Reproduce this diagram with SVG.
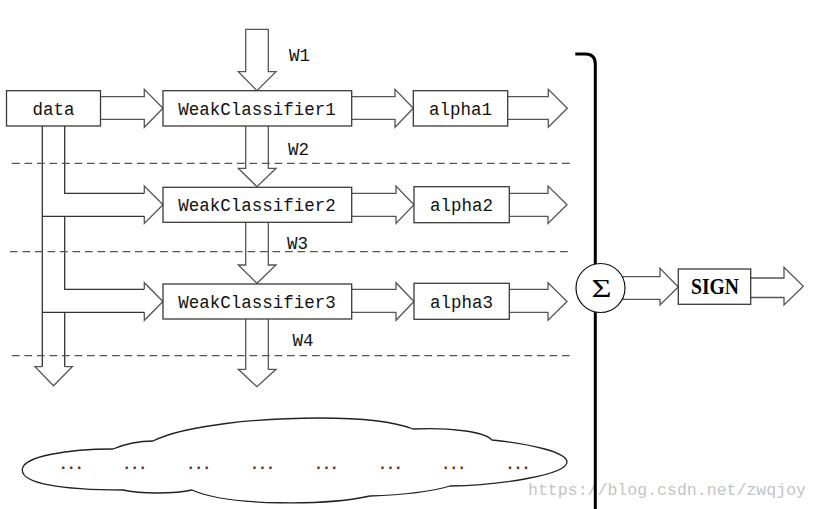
<svg xmlns="http://www.w3.org/2000/svg" width="819" height="509" viewBox="0 0 819 509">
<style>
.box{fill:#fff;stroke:#3a3a3a;stroke-width:1.3}
.arr{fill:none;stroke:#555;stroke-width:1.3;stroke-linejoin:miter}
.dl{fill:none;stroke:#333;stroke-width:1.3}
.dash{fill:none;stroke:#555;stroke-width:1.3;stroke-dasharray:7.7 4.8}
.t{font-family:"Liberation Mono",monospace;font-size:17.5px;fill:#111;text-anchor:middle}
.w{font-family:"Liberation Mono",monospace;font-size:17.5px;fill:#111}
.dots{font-family:"Liberation Sans",sans-serif;font-weight:bold;font-size:16px;letter-spacing:3.5px;fill:#6b2a1a}
</style>
<rect width="819" height="509" fill="#fff"/>

<g id="connectors">
  <!-- W1 arrow -->
  <path class="arr" d="M245.7,29.3 H268.3 V71.7 H276 L257,90.7 L238.3,71.7 H245.7 Z"/>
  <!-- W2 arrow -->
  <path class="arr" d="M245.7,126 V168.3 H238.3 L257,186.7 L276,168.3 H268.3 V126"/>
  <!-- W3 arrow -->
  <path class="arr" d="M245.7,222.3 V265 H238.3 L257,283.3 L276,265 H268.3 V222.3"/>
  <!-- W4 arrow -->
  <path class="arr" d="M245.7,319 V369.3 H238.3 L257,386.7 L276,369.3 H268.3 V319"/>

  <!-- row 1 -->
  <path class="arr" d="M100.5,96.7 H144.3 V89.3 L163,108.3 L144.3,127.3 V119.3 H100.5"/>
  <path class="arr" d="M351.7,96.7 H395 V89.3 L413.3,108.3 L395,127.3 V119.3 H351.7"/>
  <path class="arr" d="M507.7,96.7 H548.3 V89.3 L567.3,108.3 L548.3,127.3 V119.3 H507.7"/>
  <!-- row 2 -->
  <path class="arr" d="M351.7,193.3 H396 V186 L414,204.8 L396,223.5 V216.3 H351.7"/>
  <path class="arr" d="M509.3,193.3 H548 V186 L567,204.8 L548,223.5 V216.3 H509.3"/>
  <!-- row 3 -->
  <path class="arr" d="M351.7,289.3 H396 V282.7 L414,301.5 L396,320.3 V312.3 H351.7"/>
  <path class="arr" d="M509.3,289.3 H548 V282.7 L567,301.5 L548,320.3 V312.3 H509.3"/>

  <!-- data distribution -->
  <path class="dl" d="M64.7,126 V193.3 H144.3"/>
  <path class="arr" d="M144.3,193.3 V186 L163,204.8 L144.3,223.5 V216.3"/>
  <path class="dl" d="M144.3,216.3 H42.3"/>
  <path class="dl" d="M64.7,216.3 V289.3 H144.3"/>
  <path class="arr" d="M144.3,289.3 V282.7 L163,301.5 L144.3,320.3 V312.3"/>
  <path class="dl" d="M144.3,312.3 H42.3"/>
  <path class="dl" d="M42.3,126 V366.7"/>
  <path class="dl" d="M64.7,312.3 V366.7"/>
  <path class="arr" d="M42.3,366.7 H35 L53.5,385.7 L72.3,366.7 H64.7"/>

  <!-- sigma to SIGN, SIGN out -->
  <path class="arr" d="M622.2,276.7 H660 V268.3 L678.3,287 L660,305 V299.3 H622.2"/>
  <path class="arr" d="M750.7,278 H784 V267.3 L803.3,286.3 L784,305 V297.5 H750.7"/>

  <!-- dashed separators -->
  <path class="dash" d="M12,163.3 H571"/>
  <path class="dash" d="M10,251.7 H569"/>
  <path class="dash" d="M12,355.7 H571"/>
</g>

<g id="labels">
  <text class="w" x="289" y="61">W1</text>
  <text class="w" x="288" y="154.5">W2</text>
  <text class="w" x="287" y="248.5">W3</text>
  <text class="w" x="292.5" y="346">W4</text>
</g>

<g id="node-data">
  <rect class="box" x="6.5" y="90.7" width="94" height="35.3"/>
  <text class="t" x="53.5" y="114.5">data</text>
</g>
<g id="node-wc1">
  <rect class="box" x="163" y="90.7" width="188.7" height="35.3"/>
  <text class="t" x="257" y="115">WeakClassifier1</text>
</g>
<g id="node-wc2">
  <rect class="box" x="163" y="187.3" width="188.7" height="35"/>
  <text class="t" x="257" y="211">WeakClassifier2</text>
</g>
<g id="node-wc3">
  <rect class="box" x="163" y="284" width="188.7" height="35"/>
  <text class="t" x="257" y="307.7">WeakClassifier3</text>
</g>
<g id="node-alpha1">
  <rect class="box" x="413.3" y="90.7" width="94.4" height="35.3"/>
  <text class="t" x="460.5" y="115">alpha1</text>
</g>
<g id="node-alpha2">
  <rect class="box" x="414" y="186.7" width="95.3" height="36"/>
  <text class="t" x="461.6" y="211">alpha2</text>
</g>
<g id="node-alpha3">
  <rect class="box" x="414" y="283.3" width="95.3" height="36"/>
  <text class="t" x="461.6" y="307.7">alpha3</text>
</g>

<g id="node-cloud">
  <path fill="#fff" stroke="#222" stroke-width="1.3" d="M22.3,470 C22,456 70,449 113,449 C125,444 140,441 153,441 C185,425 260,418 320,418 C360,418 395,422 413,429 C450,427 485,432 492,440 C530,444 567,452 567,462 C567,475 500,485 450,486 C430,492 400,495 370,496 C330,505 230,507 192,490 C175,494 140,494 123,490 C60,490 22,483 22.3,470 Z"/>
  <text class="dots" x="61" y="469">...</text>
  <text class="dots" x="124.5" y="469">...</text>
  <text class="dots" x="188.5" y="469">...</text>
  <text class="dots" x="252.3" y="469">...</text>
  <text class="dots" x="316.2" y="469">...</text>
  <text class="dots" x="380.2" y="469">...</text>
  <text class="dots" x="443.6" y="469">...</text>
  <text class="dots" x="507.8" y="469">...</text>
</g>

<text x="528" y="495" font-family="'Liberation Mono',monospace" font-size="16.5px" fill="#c4c4c4" textLength="278" lengthAdjust="spacingAndGlyphs">https://blog.csdn.net/zwqjoy</text>

<g id="bracket">
  <path d="M575.3,54 H585.3 Q595.3,54 595.3,64 V509" fill="none" stroke="#000" stroke-width="3"/>
</g>

<g id="node-sigma">
  <circle cx="600.5" cy="288" r="24.5" fill="#fff" stroke="#111" stroke-width="1.2"/>
  <text x="601.5" y="296.7" font-family="'Liberation Serif',serif" font-size="25px" fill="#000" text-anchor="middle" textLength="20" lengthAdjust="spacingAndGlyphs">Σ</text>
</g>

<g id="node-sign">
  <rect class="box" x="678.3" y="269" width="72.4" height="35.3"/>
  <text x="691" y="294.3" font-family="'Liberation Serif',serif" font-weight="bold" font-size="23px" fill="#000" textLength="48" lengthAdjust="spacingAndGlyphs">SIGN</text>
</g>
</svg>
